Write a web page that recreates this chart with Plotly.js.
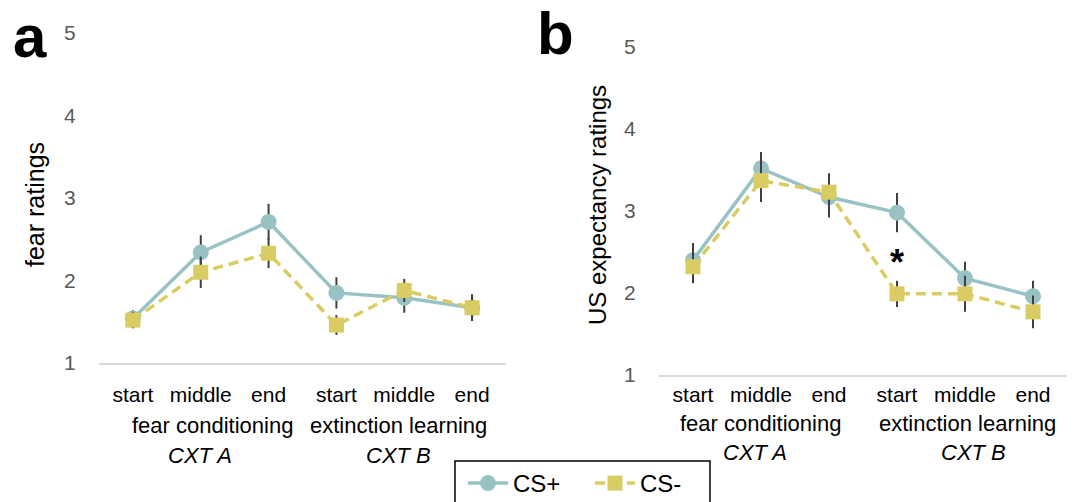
<!DOCTYPE html>
<html>
<head>
<meta charset="utf-8">
<script src="https://cdn.plot.ly/plotly-3.0.1.min.js"></script>
<style>
html,body{margin:0;padding:0;background:#fff;overflow:hidden;}
#chart{width:1077px;height:502px;}
</style>
</head>
<body>
<div id="chart"></div>
<script>
// ---- data ----
const phases = ['start', 'middle', 'end', 'start', 'middle', 'end'];
const phaseIndex = [0, 1, 2, 3, 4, 5];
const groupLabels = ['fear conditioning', 'extinction learning'];
const contextLabels = ['CXT A', 'CXT B'];
const seriesNames = ['CS+', 'CS-'];

const fearCSplus = [1.54, 2.34, 2.71, 1.85, 1.79, 1.67];
const fearCSplusErr = [0.10, 0.21, 0.22, 0.19, 0.18, 0.16];
const fearCSminus = [1.52, 2.10, 2.33, 1.46, 1.88, 1.67];
const fearCSminusErr = [0.10, 0.19, 0.18, 0.12, 0.14, 0.16];

const usCSplus = [2.40, 3.52, 3.17, 2.98, 2.18, 1.96];
const usCSplusErr = [0.21, 0.20, 0.25, 0.24, 0.20, 0.19];
const usCSminus = [2.32, 3.37, 3.23, 1.99, 1.99, 1.77];
const usCSminusErr = [0.20, 0.26, 0.23, 0.16, 0.22, 0.20];

const yTicks = [1, 2, 3, 4, 5];

// ---- styles ----
const W = 1077, H = 502;
const px = v => v / W;
const py = v => 1 - v / H;
const colPlus = '#98c2c4';
const colMinus = '#d9cc63';
const errCol = '#404040';
const FONT = 'Liberation Sans, Arial, sans-serif';

function plusTrace(y, err, xa, ya, show) {
  return {
    x: phaseIndex, y: y, xaxis: xa, yaxis: ya, name: seriesNames[0], showlegend: show,
    type: 'scatter', mode: 'lines+markers',
    line: {color: colPlus, width: 3.5},
    marker: {symbol: 'circle', size: 16, color: colPlus},
    error_y: {type: 'data', array: err, visible: true, color: errCol, thickness: 2, width: 0}
  };
}
function minusTrace(y, err, xa, ya, show) {
  return {
    x: phaseIndex, y: y, xaxis: xa, yaxis: ya, name: seriesNames[1], showlegend: show,
    type: 'scatter', mode: 'lines+markers',
    line: {color: colMinus, width: 3.5, dash: '10px,6px'},
    marker: {symbol: 'square', size: 15, color: colMinus},
    error_y: {type: 'data', array: err, visible: true, color: errCol, thickness: 2, width: 0}
  };
}

const data = [
  plusTrace(fearCSplus, fearCSplusErr, 'x', 'y', true),
  minusTrace(fearCSminus, fearCSminusErr, 'x', 'y', true),
  plusTrace(usCSplus, usCSplusErr, 'x2', 'y2', false),
  minusTrace(usCSminus, usCSminusErr, 'x2', 'y2', false)
];

function xAxis(domain, anchor, ticklen) {
  return {
    domain: domain, anchor: anchor, range: [-0.5, 5.5],
    tickvals: phaseIndex, ticktext: phases,
    showline: true, linecolor: '#d9d9d9', linewidth: 1.5,
    showgrid: false, zeroline: false,
    ticks: 'outside', ticklen: ticklen, tickcolor: 'rgba(0,0,0,0)',
    tickfont: {family: FONT, size: 21, color: '#000'},
    fixedrange: true
  };
}
function yAxis(domain, anchor) {
  return {
    domain: domain, anchor: anchor, range: [1, 5],
    tickvals: yTicks, ticktext: yTicks.map(String),
    showline: false, showgrid: false, zeroline: false,
    ticks: 'outside', ticklen: 18, tickcolor: 'rgba(0,0,0,0)',
    tickfont: {family: FONT, size: 21, color: '#595959'},
    fixedrange: true
  };
}

const annFont = {family: FONT, size: 22, color: '#000'};
function lab(x, y, text) {
  return {xref: 'paper', yref: 'paper', x: px(x), y: py(y), text: text, showarrow: false,
          font: annFont, xanchor: 'center', yanchor: 'middle'};
}
const annotations = [
  {xref: 'paper', yref: 'paper', x: px(30), y: py(36), text: '<b>a</b>', showarrow: false,
   font: {family: FONT, size: 60, color: '#000'}, xanchor: 'center', yanchor: 'middle'},
  {xref: 'paper', yref: 'paper', x: px(555), y: py(34), text: '<b>b</b>', showarrow: false,
   font: {family: FONT, size: 60, color: '#000'}, xanchor: 'center', yanchor: 'middle'},
  {xref: 'paper', yref: 'paper', x: px(35), y: py(205), text: 'fear ratings', textangle: -90, showarrow: false,
   font: {family: FONT, size: 25, color: '#000'}, xanchor: 'center', yanchor: 'middle'},
  {xref: 'paper', yref: 'paper', x: px(597), y: py(205), text: 'US expectancy ratings', textangle: -90, showarrow: false,
   font: {family: FONT, size: 24, color: '#000'}, xanchor: 'center', yanchor: 'middle'},
  // group labels panel a
  lab(212, 425, groupLabels[0]),
  lab(398, 425, groupLabels[1]),
  lab(200, 455, '<i>' + contextLabels[0] + '</i>'),
  lab(398, 455, '<i>' + contextLabels[1] + '</i>'),
  // group labels panel b
  lab(760, 423, groupLabels[0]),
  lab(967, 423, groupLabels[1]),
  lab(755, 452, '<i>' + contextLabels[0] + '</i>'),
  lab(973, 452, '<i>' + contextLabels[1] + '</i>'),
  // significance
  {xref: 'x2', yref: 'y2', x: 3, y: 2.37, text: '<b>*</b>', showarrow: false,
   font: {family: FONT, size: 36, color: '#000'}, xanchor: 'center', yanchor: 'middle'}
];

const layout = {
  width: W, height: H,
  margin: {l: 0, r: 0, t: 0, b: 0, autoexpand: false},
  paper_bgcolor: '#fff', plot_bgcolor: '#fff',
  font: {family: FONT, color: '#000'},
  showlegend: true,
  legend: {
    orientation: 'h', x: px(463), y: py(461), xanchor: 'left', yanchor: 'top',
    font: {family: FONT, size: 24, color: '#000'},
    bgcolor: 'rgba(0,0,0,0)', borderwidth: 0, itemwidth: 40,
    entrywidth: 72, entrywidthmode: 'pixels'
  },
  xaxis: xAxis([px(99), px(506)], 'y', 12),
  yaxis: yAxis([py(363), py(33)], 'x'),
  xaxis2: xAxis([px(659), px(1067)], 'y2', 0),
  yaxis2: yAxis([py(375), py(47)], 'x2'),
  annotations: annotations,
  shapes: [
    {type: 'rect', xref: 'paper', yref: 'paper', x0: px(455), x1: px(710), y0: py(520), y1: py(461),
     line: {color: '#000', width: 1.5}, fillcolor: 'rgba(0,0,0,0)'}
  ]
};

Plotly.newPlot('chart', data, layout, {displayModeBar: false, staticPlot: true});
</script>
</body>
</html>
